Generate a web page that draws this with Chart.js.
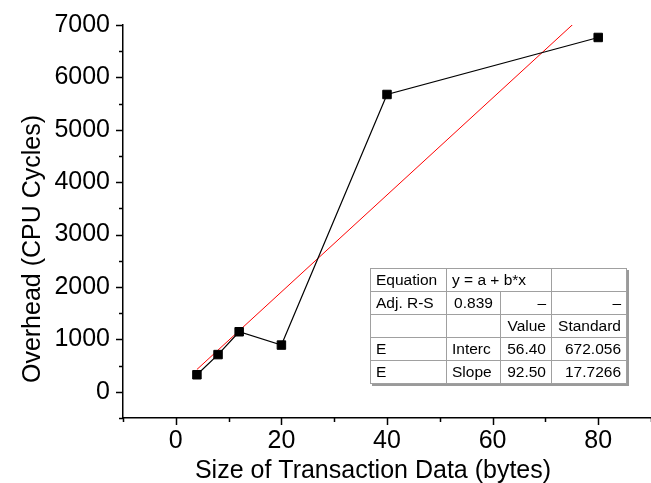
<!DOCTYPE html>
<html>
<head>
<meta charset="utf-8">
<script src="https://cdn.jsdelivr.net/npm/chart.js@4"></script>
<style>
  body { margin: 0; background: #fff; }
  #wrap { position: relative; width: 651px; height: 483px; overflow: hidden; }
  #chart { position: absolute; left: 0; top: -3px; }
  #fitTable {
    position: absolute; left: 370px; top: 268px;
    border-collapse: collapse;
    font-family: "Liberation Sans", Arial, sans-serif; font-size: 15.5px; color: #000;
    background: #fff;
    border: 1px solid #555;
    box-shadow: 2px 2px 0 #9a9a9a;
  }
  #fitTable td { border: 1px solid #a0a0a0; height: 22px; padding: 0 5px; white-space: nowrap; }
  #fitTable .r { text-align: right; }
  #fitTable .c { text-align: center; }
</style>
</head>
<body>
<div id="wrap">
  <canvas id="chart" width="659" height="486"></canvas>
  <table id="fitTable">
    <tr><td style="width:65px">Equation</td><td colspan="2">y = a + b*x</td><td style="width:64px"></td></tr>
    <tr><td>Adj. R-S</td><td class="c" style="width:43px">0.839</td><td class="r" style="width:40px">&ndash;</td><td class="r">&ndash;</td></tr>
    <tr><td></td><td></td><td class="r">Value</td><td class="r">Standard</td></tr>
    <tr><td>E</td><td>Interc</td><td class="r">56.40</td><td class="r">672.056</td></tr>
    <tr><td>E</td><td>Slope</td><td class="r">92.50</td><td class="r">17.7266</td></tr>
  </table>
</div>
<script>
// measured points
const tamanhos = [4, 8, 12, 20, 40, 80];
const overhead = [325, 710, 1146, 892, 5674, 6762];

// linear fit y = 56.40 + 92.50*x, end points
const fitX = [4, 80];
const fitY = [426, 7456];

const xTitulo = 'Size of Transaction Data (bytes)';
const yTitulo = 'Overhead (CPU Cycles)';

const fonte = '"Liberation Sans", Arial, sans-serif';

// ticks desenhados à mão: maiores com rótulo, menores sem
const ticksPlugin = {
  id: 'ticksOrigin',
  afterDraw(chart) {
    const ctx = chart.ctx;
    const xs = chart.scales.x, ys = chart.scales.y;
    const area = chart.chartArea;
    ctx.save();
    ctx.strokeStyle = '#000';
    ctx.lineWidth = 1.5;
    xs.ticks.forEach(t => {
      const px = Math.round(xs.getPixelForValue(t.value)) + 0.5;
      const len = t.label !== '' ? 7 : 4;
      ctx.beginPath();
      ctx.moveTo(px, area.bottom);
      ctx.lineTo(px, area.bottom + len);
      ctx.stroke();
    });
    ys.ticks.forEach(t => {
      const py = Math.round(ys.getPixelForValue(t.value)) + 0.5;
      const len = t.label !== '' ? 7 : 4;
      ctx.beginPath();
      ctx.moveTo(area.left, py);
      ctx.lineTo(area.left - len, py);
      ctx.stroke();
    });
    // títulos dos eixos (canvas deslocado 3px para cima)
    ctx.fillStyle = '#000';
    ctx.font = '25px ' + fonte;
    ctx.textAlign = 'center';
    ctx.textBaseline = 'alphabetic';
    ctx.fillText(xTitulo, 373, 481);
    ctx.translate(40, 252);
    ctx.rotate(-Math.PI / 2);
    ctx.fillText(yTitulo, 0, 0);
    ctx.restore();
  }
};

new Chart(document.getElementById('chart'), {
  type: 'scatter',
  data: {
    datasets: [
      {
        data: tamanhos.map((x, i) => ({ x: x, y: overhead[i] })),
        showLine: true,
        borderColor: '#000',
        borderWidth: 1.2,
        backgroundColor: '#000',
        pointStyle: 'rect',
        pointRadius: 6,
        pointBorderWidth: 1,
        pointBorderColor: '#000'
      },
      {
        data: fitX.map((x, i) => ({ x: x, y: fitY[i] })),
        showLine: true,
        borderColor: '#ff0000',
        borderWidth: 1,
        pointRadius: 0
      }
    ]
  },
  options: {
    responsive: false,
    animation: false,
    devicePixelRatio: 1,
    layout: { padding: { top: 22, right: 0, left: 0, bottom: 0 } },
    plugins: { legend: { display: false }, tooltip: { enabled: false } },
    scales: {
      x: {
        type: 'linear',
        min: -10, max: 90,
        afterFit: s => { s.height = 65; },
        grid: { display: false, drawTicks: false },
        border: { display: true, color: '#000', width: 1.5 },
        ticks: {
          stepSize: 10,
          autoSkip: false,
          maxRotation: 0,
          padding: 8,
          color: '#000',
          font: { family: fonte, size: 25 },
          callback: v => (v % 20 === 0 ? String(v) : '')
        }
      },
      y: {
        type: 'linear',
        min: -500, max: 7000,
        afterFit: s => { s.width = 123; },
        grid: { display: false, drawTicks: false },
        border: { display: true, color: '#000', width: 1.5 },
        ticks: {
          stepSize: 500,
          autoSkip: false,
          padding: 13,
          color: '#000',
          font: { family: fonte, size: 25 },
          callback: v => (v >= 0 && v % 1000 === 0 ? String(v) : '')
        }
      }
    }
  },
  plugins: [ticksPlugin]
});
</script>
</body>
</html>
